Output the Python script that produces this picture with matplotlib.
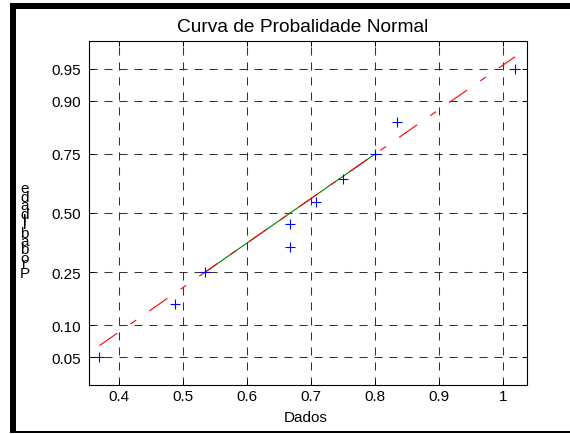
from statistics import NormalDist

import matplotlib
matplotlib.use("Agg")
import matplotlib.pyplot as plt
import numpy as np
from matplotlib.font_manager import FontProperties
from matplotlib.patches import Rectangle

# dados
dados = [0.369, 0.487, 0.534, 0.667, 0.667, 0.708, 0.750, 0.800, 0.833, 1.018]
prob = [0.05, 0.15, 0.25, 0.35, 0.45, 0.55, 0.65, 0.75, 0.85, 0.95]

xticks = [0.4, 0.5, 0.6, 0.7, 0.8, 0.9, 1.0]
xtick_labels = ['0.4', '0.5', '0.6', '0.7', '0.8', '0.9', '1']
yticks = [0.05, 0.10, 0.25, 0.50, 0.75, 0.90, 0.95]
ytick_labels = ['0.05', '0.10', '0.25', '0.50', '0.75', '0.90', '0.95']

titulo = 'Curva de Probalidade Normal'
xlabel = 'Dados'
ylabel = 'Probabilidade'

W, H = 570, 435
plt.rcParams['font.family'] = ['Liberation Sans', 'DejaVu Sans']
plt.rcParams['lines.scale_dashes'] = False

nd = NormalDist()
z = lambda p: [nd.inv_cdf(v) for v in p]

fig = plt.figure(figsize=(W / 100, H / 100), dpi=100)
fig.patch.set_facecolor('white')

# eixo em pixels
left, right, top, bottom = 88.5, 526.5, 42, 386
ax = fig.add_axes([left / W, 1 - bottom / H, (right - left) / W, (bottom - top) / H])

# linha de referencia pelos quartis
xs = np.sort(dados)
q1, q3 = np.interp([0.25, 0.75], prob, xs)
z1, z3 = z([0.25, 0.75])
slope = (z3 - z1) / (q3 - q1)
xr = np.array([xs[0], xs[-1]])
zr = z1 + slope * (xr - q1)

ax.plot([q1, q3], [z1, z3], color='#008000', lw=0.8)
ax.plot(xr, zr, color='#ff0000', lw=0.8, dashes=(15.8, 11.5, 5.0, 11.5))
ax.plot(dados, z(prob), '+', color='#0000ff', ms=7, mew=0.8)

ax.set_xlim(0.352, 1.036)
ax.set_ylim(nd.inv_cdf(0.025), nd.inv_cdf(0.975))
ax.set_xticks(xticks)
ax.set_xticklabels(xtick_labels)
ax.set_yticks(z(yticks))
ax.set_yticklabels(ytick_labels)

ax.grid(True, color='#333333', lw=0.75, dashes=(5.8, 5.0))
ax.set_axisbelow(True)
ax.tick_params(direction='in', top=True, right=True, length=3.6, width=0.7,
               labelsize=11, colors='black')
ax.tick_params(axis='x', pad=3)
ax.tick_params(axis='y', pad=5.5)
for s in ax.spines.values():
    s.set_linewidth(0.8)

fig.text(303 / W, 1 - 32 / H, titulo, ha='center', va='baseline', fontsize=13.8)
fig.text(305.5 / W, 1 - 422 / H, xlabel, ha='center', va='baseline', fontsize=11)

# rotulo do eixo y: letras em pe, empilhadas
fp = FontProperties(family='Liberation Sans', size=11)
r = fig.canvas.get_renderer()
y = 278
for ch in ylabel:
    fig.text(24.5 / W, 1 - y / H, ch, ha='center', va='baseline', fontproperties=fp)
    w, h, d = r.get_text_width_height_descent(ch, fp, ismath=False)
    y -= w

# moldura preta
fig.add_artist(Rectangle((10 / W, 1 - 10 / H), 1, 6 / H, transform=fig.transFigure,
                         color='black', lw=0))
fig.add_artist(Rectangle((10 / W, 1 / H), 6 / W, 430 / H, transform=fig.transFigure,
                         color='black', lw=0))
fig.add_artist(Rectangle((10 / W, 0.8 / H), 1, 2.5 / H, transform=fig.transFigure,
                         color='black', lw=0))

fig.savefig('out.png', dpi=100, facecolor='white')
